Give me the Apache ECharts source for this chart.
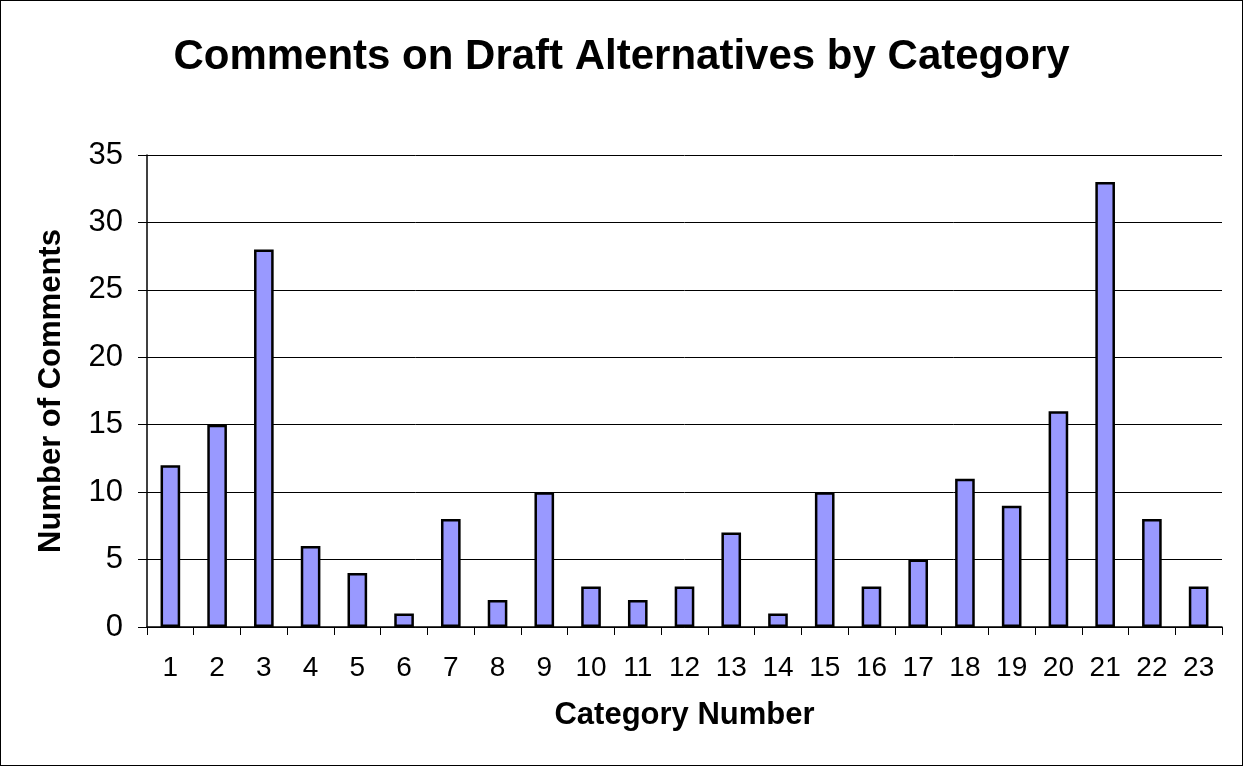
<!DOCTYPE html>
<html>
<head>
<meta charset="utf-8">
<style>
  html, body { margin: 0; padding: 0; background: #fff; }
  #main { width: 1241px; height: 764px; border: 1px solid #000; }
</style>
<script src="https://cdn.jsdelivr.net/npm/echarts@6/dist/echarts.min.js"></script>
</head>
<body>
<div id="main"></div>
<script>
// category numbers and comment counts
var categories = ['1','2','3','4','5','6','7','8','9','10','11','12','13','14','15','16','17','18','19','20','21','22','23'];
var comments = [12, 15, 28, 6, 4, 1, 8, 2, 10, 3, 2, 3, 7, 1, 10, 3, 5, 11, 9, 16, 33, 8, 3];

var font = 'Liberation Sans, Arial, sans-serif';
var chart = echarts.init(document.getElementById('main'), null, { renderer: 'canvas' });

chart.setOption({
  animation: false,
  title: {
    text: 'Comments on Draft Alternatives by Category',
    left: 'center',
    top: 30,
    textStyle: { fontFamily: font, fontSize: 42, fontWeight: 'bold', color: '#000' }
  },
  grid: { left: 146, right: 20, top: 154, bottom: 138 },
  xAxis: {
    type: 'category',
    data: categories,
    name: 'Category Number',
    nameLocation: 'middle',
    nameGap: 73,
    nameTextStyle: { fontFamily: font, fontSize: 31, fontWeight: 'bold', color: '#000' },
    axisLine: { lineStyle: { color: '#000', width: 1.5 } },
    axisTick: { show: true, length: 8, lineStyle: { color: '#000' } },
    axisLabel: { fontFamily: font, fontSize: 28, color: '#000', margin: 27 }
  },
  yAxis: {
    type: 'value',
    min: 0,
    max: 35,
    interval: 5,
    name: 'Number of Comments',
    nameLocation: 'middle',
    nameGap: 80,
    nameTextStyle: { fontFamily: font, fontSize: 31, fontWeight: 'bold', color: '#000' },
    axisLine: { show: true, lineStyle: { color: '#000', width: 1.5 } },
    axisTick: { show: true, length: 9, lineStyle: { color: '#000' } },
    axisLabel: { fontFamily: font, fontSize: 31, color: '#000', margin: 24 },
    splitLine: { lineStyle: { color: '#000', width: 1 } }
  },
  series: [{
    type: 'bar',
    data: comments,
    barWidth: '42%',
    itemStyle: { color: '#9999FF', borderColor: '#000', borderWidth: 2.5 }
  }]
});
</script>
</body>
</html>
